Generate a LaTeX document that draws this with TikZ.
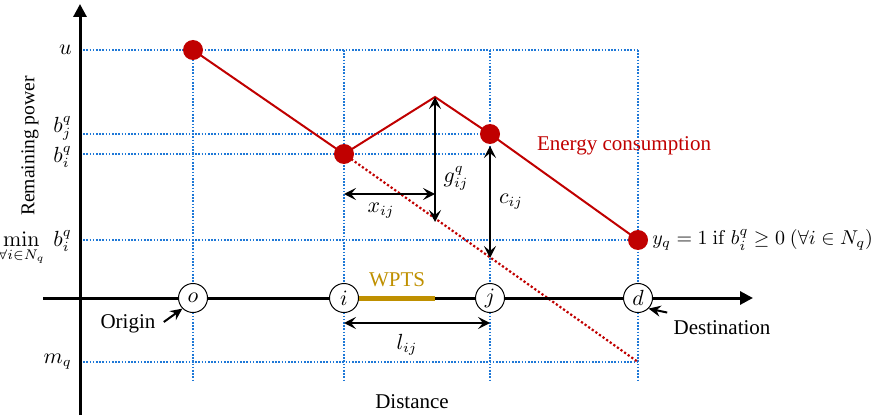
\documentclass[tikz,border=0pt]{standalone}
\usepackage[no-math]{fontspec}
\setmainfont{Liberation Serif}
\usetikzlibrary{arrows.meta}
\definecolor{gridblue}{RGB}{30,120,215}
\definecolor{myred}{RGB}{192,0,0}
\definecolor{wgold}{RGB}{191,144,0}
\tikzset{
  gridline/.style={gridblue, line width=0.8pt, dash pattern=on 0.8pt off 0.8pt},
  energy/.style={myred, line width=1pt},
  energydot/.style={myred, line width=1.1pt, dash pattern=on 1.1pt off 1.1pt},
  reddot/.style={circle, fill=myred, inner sep=0pt, minimum size=10pt},
  axisline/.style={line width=1.5pt, -{Triangle[length=6.5pt,width=6.5pt]}},
  station/.style={circle, draw, line width=0.5pt, fill=white, minimum size=14.5pt, inner sep=0pt},
  dim/.style={line width=1pt, {Stealth[length=6pt,width=6pt,inset=2.5pt]}-{Stealth[length=6pt,width=6pt,inset=2.5pt]}},
  ptr/.style={line width=1pt, -{Stealth[length=6pt,width=5.5pt,inset=2pt]}},
  lbl/.style={inner sep=1pt},
  ylbl/.style={inner sep=0pt, anchor=east},
}
\begin{document}
\begin{tikzpicture}[x=0.5pt,y=-0.5pt, font=\fontsize{10.5}{12.5}\selectfont]
\useasboundingbox (0,0) rectangle (889,417);
% coordinates
\coordinate (xs) at (43,298);
\coordinate (xe) at (753,298);
\coordinate (ys) at (80,415);
\coordinate (ye) at (80,4);
% grid lines
\draw[gridline] (80,50) -- (638,50);
\draw[gridline] (80,134) -- (490,134);
\draw[gridline] (80,154) -- (490,154);
\draw[gridline] (80,240) -- (638,240);
\draw[gridline] (80,362) -- (638,362);
\foreach \xx in {193,344,490,638} \draw[gridline] (\xx,50) -- (\xx,381);
% energy curve
\coordinate (U) at (193,50);
\coordinate (I) at (344,154);
\coordinate (P) at (435,97);
\coordinate (J) at (490,134);
\coordinate (D) at (638,240);
\coordinate (M) at (638,362);
\draw[energydot] (I) -- (M);
\draw[energy] (U) -- (I) -- (P) -- (J) -- (D);
\node[reddot] (u) at (U) {};
\node[reddot] (bi) at (I) {};
\node[reddot] (bj) at (J) {};
\node[reddot] (bd) at (D) {};
% dimension arrows
\coordinate (gtop) at (435,97);
\coordinate (gbot) at (435,222);
\coordinate (xl) at (344,194);
\coordinate (xr) at (435,194);
\coordinate (ctop) at (490,146);
\coordinate (cbot) at (490,258);
\draw[dim] (gtop) -- (gbot);
\draw[dim] (xl) -- (xr);
\draw[dim] (ctop) -- (cbot);
\node[lbl] (glab) at (456,178) {$g_{ij}^q$};
\node[lbl] (xlab) at (381,211) {$x_{ij}$};
\node[lbl] (clab) at (511,202) {$c_{ij}$};
% axes
\draw[axisline] (xs) -- (xe);
\draw[axisline] (ys) -- (ye);
% WPTS
\node[station] (i) at (344,298) {$i$};
\coordinate (wend) at (435,298);
\draw[wgold, line width=2.5pt] (i.east) -- (wend);
\node[lbl, text=wgold] (wpts) at (397,280) {WPTS};
\node[station] (o) at (193,298) {$o$};
\node[station] (j) at (490,298) {$j$};
\node[station] (d) at (638,298) {$d$};
% l_ij
\coordinate (ll) at (344,323);
\coordinate (lr) at (490,323);
\draw[dim] (ll) -- (lr);
\node[lbl] (llab) at (407,345) {$l_{ij}$};
% origin / destination
\node[lbl] (origin) at (128,324) {Origin};
\draw[ptr] ([xshift=3pt,yshift=1pt]origin.east) -- (o.225);
\node[lbl] (dest) at (722,328) {Destination};
\draw[ptr] ([xshift=-2pt,yshift=3pt]dest.north west) -- (d.-45);
% axis labels
\node[lbl] (dist) at (412,402) {Distance};
\node[lbl, rotate=90, font=\fontsize{9.8}{12}\selectfont] (rp) at (30,146) {Remaining power};
% y labels
\node[ylbl] (ulab) at (72,50) {$u$};
\node[ylbl] (bjlab) at (72,128) {$b_j^q$};
\node[ylbl] (bilab) at (72,157) {$b_i^q$};
\node[ylbl] (minlab) at (72,248) {$\min\limits_{\forall i\in N_q}\ b_i^q$};
\node[ylbl] (mlab) at (72,362) {$m_q$};
% annotations
\node[lbl, text=myred] (ec) at (624,146) {Energy consumption};
\node[lbl, anchor=west, font=\fontsize{10}{12}\selectfont] (yq) at (650,240) {$y_q=1\ \mathrm{if}\ b_i^q\geq 0\ (\forall i\in N_q)$};
\end{tikzpicture}
\end{document}
